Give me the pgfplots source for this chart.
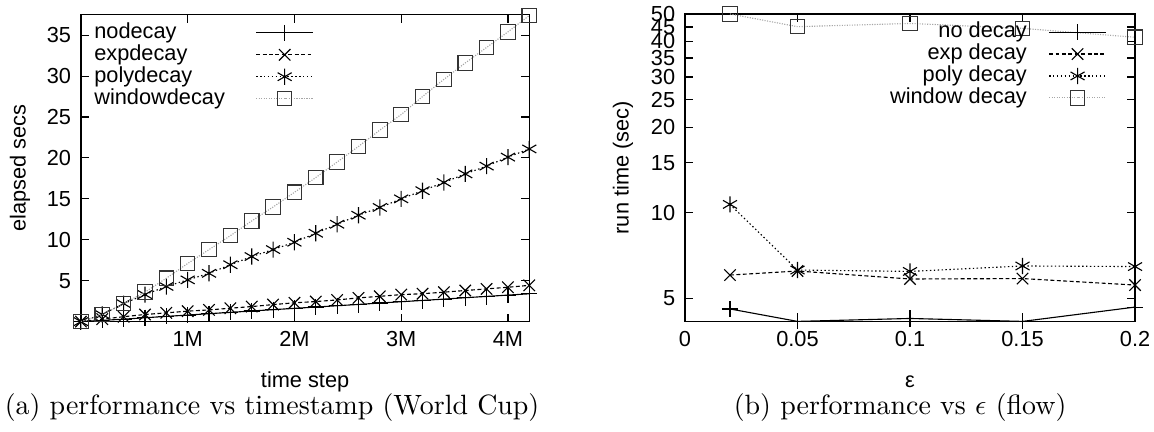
\documentclass[border=0pt]{standalone}
\usepackage{fontspec}
\newfontfamily\arial{Liberation Sans}
\usepackage{pgfplots}
\pgfplotsset{compat=1.18}
\newcommand\gf{\arial\fontsize{7.8}{9.4}\selectfont}
\pgfplotsset{
  gp/.style={
    scale only axis,
    axis line style={line width=0.5pt},
    tick align=inside,
    major tick length=2.9pt,
    tick style={black,line width=0.4pt},
    every tick label/.append style={font=\gf},
    label style={font=\gf},
    clip mode=individual,
    legend image code/.code={\draw[mark repeat=2,mark phase=2,##1] plot coordinates {(0pt,0pt)(10.2pt,0pt)(20.4pt,0pt)};},
    legend style={font=\gf, draw=none, fill=none, inner sep=0pt, row sep=0pt,
      nodes={inner sep=0.3pt, text height=5.6pt, text depth=1.65pt}},
    legend plot pos=right,
    x label style={at={(axis description cs:0.5,0)}, anchor=center, yshift=-21.6pt},
  },
  s1/.style={black, line width=0.4pt, mark=+, mark size=2.9pt, mark options={solid}},
  s2/.style={black, line width=0.4pt, dash pattern=on 1.4pt off 0.9pt, mark=x, mark size=2.9pt, mark options={solid}},
  s3/.style={black, line width=0.4pt, dash pattern=on 0.5pt off 0.9pt, mark=asterisk, mark size=2.9pt, mark options={solid}},
  s4/.style={gray!70, line width=0.4pt, dash pattern=on 0.4pt off 0.5pt, mark=square, mark size=2.6pt, mark options={solid, draw=black!80}},
}
\begin{document}
\begin{tikzpicture}
\path[use as bounding box] (0,0) rectangle (413.6pt,-154.8pt);
\begin{axis}[gp,
  at={(29.0pt,-5.27pt)}, anchor=north west,
  width=160.7pt, height=110.0pt,
  xmin=0, xmax=4.2, ymin=0, ymax=37.5,
  xtick={1,2,3,4}, xticklabels={1M,2M,3M,4M},
  ytick={5,10,15,20,25,30,35}, yticklabels={5,10,15,20,25,30,35},
  xlabel={time step}, ylabel={elapsed secs},
  y label style={at={(axis description cs:-0.136,0.5)}, anchor=center, rotate=0},
  legend cell align=left,
  legend style={at={(axis description cs:0,1)}, anchor=north west, xshift=4.3pt, yshift=-2.4pt,
    /tikz/column sep=10.7pt},
]
\addplot[s1] coordinates {(0,0)(0.2,0.15)(0.4,0.3)(0.6,0.47)(0.8,0.64)(1.0,0.8)(1.2,0.97)(1.4,1.13)(1.6,1.3)(1.8,1.46)(2.0,1.62)(2.2,1.78)(2.4,1.94)(2.6,2.1)(2.8,2.27)(3.0,2.43)(3.2,2.59)(3.4,2.75)(3.6,2.92)(3.8,3.08)(4.0,3.24)(4.2,3.4)};
\addlegendentry{nodecay}
\addplot[s2] coordinates {(0,0)(0.2,0.3)(0.4,0.6)(0.6,0.87)(0.8,1.07)(1.0,1.28)(1.2,1.43)(1.4,1.64)(1.6,1.84)(1.8,2.08)(2.0,2.3)(2.2,2.45)(2.4,2.65)(2.6,2.9)(2.8,3.09)(3.0,3.3)(3.2,3.41)(3.4,3.6)(3.6,3.8)(3.8,4.0)(4.0,4.2)(4.2,4.43)};
\addlegendentry{expdecay}
\addplot[s3] coordinates {(0,0)(0.2,0.87)(0.4,2.2)(0.6,3.3)(0.8,4.3)(1.0,5.1)(1.2,5.9)(1.4,6.95)(1.6,7.95)(1.8,8.8)(2.0,9.7)(2.2,10.8)(2.4,11.9)(2.6,13.0)(2.8,13.95)(3.0,15.0)(3.2,16.0)(3.4,17.0)(3.6,18.05)(3.8,19.0)(4.0,20.1)(4.2,21.1)};
\addlegendentry{polydecay}
\addplot[s4] coordinates {(0,0)(0.2,0.87)(0.4,2.2)(0.6,3.6)(0.8,5.3)(1.0,7.1)(1.2,8.8)(1.4,10.5)(1.6,12.3)(1.8,14.0)(2.0,15.8)(2.2,17.6)(2.4,19.5)(2.6,21.4)(2.8,23.4)(3.0,25.3)(3.2,27.5)(3.4,29.6)(3.6,31.6)(3.8,33.5)(4.0,35.4)(4.2,37.4)};
\addlegendentry{windowdecay}
\end{axis}
\begin{axis}[gp,
  at={(245.5pt,-5.0pt)}, anchor=north west,
  width=161.3pt, height=110.3pt,
  xmin=0, xmax=0.2, ymode=log, ymin=4.14, ymax=50,
  xtick={0,0.05,0.1,0.15,0.2}, xticklabels={0,0.05,0.1,0.15,0.2},
  ytick={5,10,15,20,25,30,35,40,45,50}, yticklabels={5,10,15,20,25,30,35,40,45,50},
  yminorticks=false,
  xlabel={ε}, ylabel={run time (sec)},
  y label style={at={(axis description cs:-0.138,0.5)}, anchor=center, rotate=0},
  legend cell align=right,
  legend style={at={(axis description cs:1,1)}, anchor=north east, xshift=-10pt, yshift=-2.4pt,
    /tikz/column sep=7.5pt},
]
\addplot[s1] coordinates {(0.02,4.59)(0.05,4.15)(0.1,4.25)(0.15,4.15)(0.2,4.66)};
\addlegendentry{no decay}
\addplot[s2] coordinates {(0.02,6.04)(0.05,6.24)(0.1,5.85)(0.15,5.87)(0.2,5.57)};
\addlegendentry{exp decay}
\addplot[s3] coordinates {(0.02,10.7)(0.05,6.29)(0.1,6.22)(0.15,6.50)(0.2,6.47)};
\addlegendentry{poly decay}
\addplot[s4] coordinates {(0.02,50)(0.05,45.1)(0.1,46.3)(0.15,44.5)(0.2,41.4)};
\addlegendentry{window decay}
\end{axis}
\node[font=\fontsize{10}{12}\selectfont] at (97.5pt,-146.2pt) {(a) performance vs timestamp (World Cup)};
\node[font=\fontsize{10}{12}\selectfont] at (322.6pt,-146.2pt) {(b) performance vs $\epsilon$ (flow)};
\end{tikzpicture}
\end{document}
